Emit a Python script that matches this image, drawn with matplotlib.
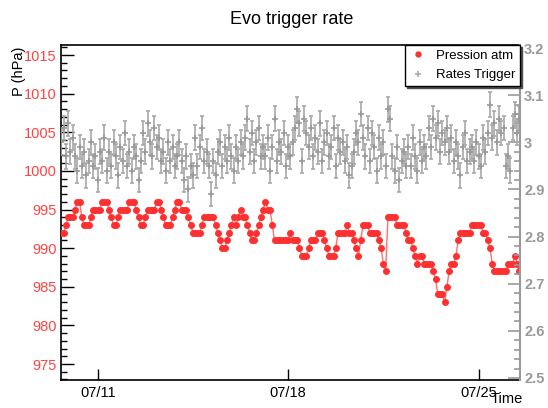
import matplotlib
matplotlib.use('Agg')
import matplotlib.pyplot as plt
import matplotlib.dates as mdates
from matplotlib.ticker import MultipleLocator, FixedLocator
from matplotlib.lines import Line2D
import datetime as dt

plt.rcParams['font.family'] = ['Liberation Sans', 'DejaVu Sans']

# ---------------- data ----------------
title = 'Evo trigger rate'
start_time = dt.datetime(2015, 7, 9, 16, 0)
step_hours = 2

pression = [
    992, 992, 993, 994, 994, 994, 995, 996, 996, 994,
    993, 993, 993, 994, 995, 995, 995, 995, 996, 996,
    996, 995, 994, 993, 993, 994, 995, 995, 995, 995,
    996, 996, 996, 995, 994, 993, 993, 994, 995, 995,
    995, 995, 996, 996, 995, 994, 993, 993, 993, 994,
    995, 996, 996, 995, 995, 995, 994, 993, 992, 992,
    992, 992, 993, 994, 994, 994, 994, 994, 993, 992,
    991, 990, 990, 991, 992, 993, 994, 993, 994, 995,
    994, 994, 993, 992, 991, 991, 992, 993, 994, 995,
    996, 995, 995, 993, 991, 991, 991, 991, 991, 991,
    991, 992, 991, 991, 991, 990, 989, 989, 989, 990,
    991, 991, 991, 992, 992, 992, 991, 990, 989, 989,
    989, 990, 992, 992, 992, 992, 993, 992, 992, 991,
    990, 989, 991, 993, 993, 993, 992, 992, 992, 992,
    991, 990, 988, 987, 994, 994, 994, 994, 993, 993,
    993, 993, 992, 991, 991, 990, 989, 988, 989, 989,
    988, 988, 988, 988, 987, 986, 984, 984, 984, 983,
    985, 987, 988, 988, 989, 991, 992, 992, 992, 992,
    992, 993, 993, 993, 993, 993, 992, 992, 991, 990,
    988, 987, 987, 987, 987, 987, 987, 988, 988, 988,
    989, 988, 987]

rates = [
    3.00, 3.03, 2.97, 3.04, 2.98, 3.01,
    2.97, 2.94, 2.99, 2.95, 2.98, 2.93, 2.96, 3.00, 2.95, 2.97, 2.92, 2.98,
    2.96, 3.01, 2.94, 2.98, 2.95, 3.00, 2.97, 2.93, 2.99, 2.96, 3.02, 2.95,
    2.98, 2.94, 2.99, 2.97, 2.92, 2.96,
    3.02, 2.98, 3.04, 3.00, 2.97, 3.03, 2.99, 3.01, 2.96,
    2.98, 2.94, 3.00, 2.96, 2.99, 2.95, 2.97, 3.00,
    2.96, 2.92, 2.97, 2.90, 2.95, 2.93,
    3.01, 2.95, 2.99, 3.03, 2.96, 2.98,
    2.95, 2.89, 2.96, 2.93,
    2.98, 3.00, 2.95, 2.99, 2.96, 3.01, 2.97, 2.94, 2.99, 2.96, 3.00, 2.97,
    3.01, 3.05, 2.98, 3.02, 2.96, 3.00, 3.03, 2.97, 2.99,
    2.97, 3.01, 2.94, 2.99, 3.05, 2.96, 3.00, 2.98, 3.02, 2.95, 2.99, 2.97, 3.00,
    3.03, 3.07, 3.04, 2.96, 3.05, 3.02,
    2.99, 3.03, 2.97, 3.01, 2.98, 3.04, 2.96, 3.00, 3.02, 2.97, 2.99, 3.03,
    2.95, 3.01, 2.98, 3.00, 2.96, 2.99,
    2.93, 2.95,
    2.98, 3.02, 3.00, 3.06, 3.01, 2.97, 3.03,
    2.96, 3.02, 2.99, 2.94, 3.01, 2.97, 3.00, 2.95,
    3.07, 3.05,
    2.97, 2.94, 2.99, 2.92, 2.96, 2.98, 2.95,
    2.99, 2.95, 3.01, 2.97, 2.94, 3.00, 2.96, 2.99, 2.97,
    3.03, 2.99, 3.05, 3.01, 3.04, 2.98, 3.02, 3.00, 3.03,
    2.98, 3.01, 2.96, 3.00, 2.97, 2.93, 2.99, 3.02, 2.96, 2.98,
    2.99, 2.96, 3.00, 2.97, 2.95, 3.01, 2.98,
    3.02, 3.08, 3.01, 3.04, 3.00, 3.05, 3.02, 3.03,
    2.95, 2.97, 2.94,
    3.03, 3.06, 3.02, 3.05]
rate_err = 0.026

date_ticks = [dt.datetime(2015, 7, 11), dt.datetime(2015, 7, 18), dt.datetime(2015, 7, 25)]
x_range = (dt.datetime(2015, 7, 9, 15, 38), dt.datetime(2015, 7, 26, 12, 30))
p_range = (972.93, 1016.3)
r_range = (2.4957, 3.2064)

t_p = [start_time + dt.timedelta(hours=step_hours * i) for i in range(len(pression))]
t_r = [start_time + dt.timedelta(hours=step_hours * i) for i in range(len(rates))]

# ---------------- figure ----------------
RED = '#ff3030'
GRAY = '#999999'

fig = plt.figure(figsize=(5.48, 4.08), dpi=100)
ax = fig.add_axes([61 / 548, 1 - 380 / 408, (520 - 61) / 548, (380 - 45) / 408])
ax2 = ax.twinx()

lp, = ax.plot(t_p, pression, '-', color='#ff7070', lw=1.0, zorder=2)
mp, = ax.plot(t_p, pression, 'o', color=RED, ms=4.0, mec=RED, zorder=3,
              label='Pression atm')

eb = ax2.errorbar(t_r, rates, yerr=rate_err, fmt='+', color=GRAY, ecolor='#a8a8a8',
                  elinewidth=1.2, capsize=1.5, ms=5, mew=1.2, label='Rates Trigger')

ax.set_xlim(*x_range)
ax.set_ylim(*p_range)
ax2.set_ylim(*r_range)

# left axis
ax.yaxis.set_major_locator(MultipleLocator(5))
ax.yaxis.set_minor_locator(MultipleLocator(1))
ax.tick_params(axis='y', which='major', direction='in', length=9, width=1,
               labelsize=10.5, labelcolor='#ff4444', pad=3, right=False)
ax.tick_params(axis='y', which='minor', direction='in', length=4.5, width=1, right=False)

# bottom axis
ax.xaxis.set_major_locator(FixedLocator(mdates.date2num(date_ticks)))
ax.xaxis.set_major_formatter(mdates.DateFormatter('%m/%d'))
ax.xaxis.set_minor_locator(FixedLocator([]))
ax.tick_params(axis='x', which='major', direction='in', length=8, width=1,
               labelsize=10.5, pad=4, top=False)

# right axis
ax2.yaxis.set_major_locator(MultipleLocator(0.1))
ax2.yaxis.set_minor_locator(MultipleLocator(0.02))
ax2.yaxis.set_major_formatter(matplotlib.ticker.FuncFormatter(
    lambda v, p: '3' if abs(v - 3) < 1e-6 else '%.1f' % v))
ax2.tick_params(axis='y', which='major', direction='in', length=9, width=1.2,
                color=GRAY, labelsize=10.5, labelcolor=GRAY, pad=3)
ax2.tick_params(axis='y', which='minor', direction='in', length=4, width=1.2, color=GRAY)
for lab in ax2.get_yticklabels():
    lab.set_fontweight('bold')

for sp in ['left', 'bottom', 'top']:
    ax.spines[sp].set_linewidth(1.2)
    ax2.spines[sp].set_visible(False)
ax.spines['right'].set_visible(False)
ax2.spines['right'].set_color(GRAY)
ax2.spines['right'].set_linewidth(1.5)
ax2.spines['left'].set_visible(False)

# legend
red_handle = Line2D([], [], ls='none', marker='o', color=RED, ms=3.5)
gray_handle = Line2D([], [], ls='none', marker='+', color='#aaaaaa', ms=5, mew=1.2)
leg = ax2.legend([red_handle, gray_handle], ['Pression atm', 'Rates Trigger'], loc='upper right',
                 bbox_to_anchor=(1.0, 1.0), borderaxespad=0, fancybox=False,
                 edgecolor='black', framealpha=1, fontsize=9.5, handlelength=1.2,
                 handletextpad=0.8, borderpad=0.35, labelspacing=0.55,
                 shadow={'color': '0.3', 'alpha': 1.0, 'ox': 1.5, 'oy': -1.5})
leg.get_frame().set_linewidth(1.0)
leg.set_zorder(10)

fig.text(0.533, 0.951, title, ha='center', va='center', fontsize=13)
fig.text(0.955, 0.022, 'Time', ha='right', va='center', fontsize=10.5)
fig.text(0.035, 0.885, 'P (hPa)', rotation=90, ha='center', va='top', fontsize=10.5)

fig.savefig('out.png', dpi=100)
